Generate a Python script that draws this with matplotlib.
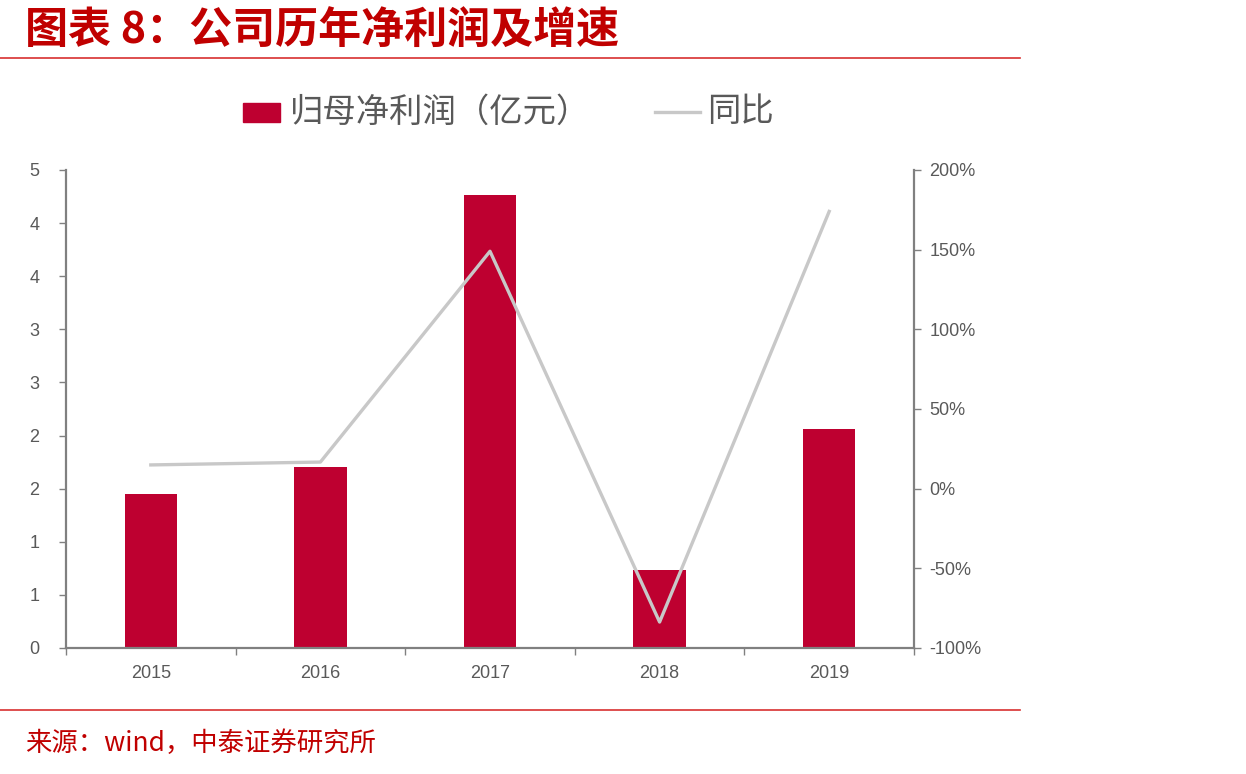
import numpy as np
import matplotlib
matplotlib.use('Agg')
import matplotlib.pyplot as plt
from matplotlib.ticker import FixedLocator, FuncFormatter

plt.rcParams['font.family'] = ['Liberation Sans', 'Noto Sans CJK SC', 'DejaVu Sans']

# data
years = ['2015', '2016', '2017', '2018', '2019']
profit = [1.45, 1.70, 4.26, 0.73, 2.06]      # 归母净利润（亿元）
yoy = [14.9, 16.7, 149.0, -83.7, 174.0]      # 同比 (%)

left_ticks = np.arange(0, 4.51, 0.5)
right_ticks = [-100, -50, 0, 50, 100, 150, 200]

bar_color = '#BE0030'
line_color = '#C8C8C8'
text_gray = '#595959'
axis_gray = '#808080'
red = '#C00000'

fig = plt.figure(figsize=(12.46, 7.74), dpi=100)
ax = fig.add_axes([66 / 1246, 126 / 774, 848 / 1246, 478 / 774])
x = np.arange(len(years))

ax.bar(x, profit, width=0.31, color=bar_color, zorder=2)
ax.set_xlim(-0.5, len(years) - 0.5)
ax.set_ylim(0, 4.5)
ax.yaxis.set_major_locator(FixedLocator(left_ticks))
# the original labels are rounded to whole numbers
ax.yaxis.set_major_formatter(FuncFormatter(lambda v, p: '%d' % int(np.floor(v + 0.5))))
ax.set_xticks(x)
ax.set_xticklabels(years)
ax.set_xticks(np.arange(-0.5, len(years)), minor=True)
ax.tick_params(axis='x', which='major', length=0, pad=12, labelsize=13, labelcolor=text_gray)
ax.tick_params(axis='x', which='minor', length=5, width=1, color=axis_gray)
ax.tick_params(axis='y', length=5, width=1, color=axis_gray, labelsize=13, labelcolor=text_gray, pad=14)
for s in ['top', 'right']:
    ax.spines[s].set_visible(False)
for s in ['left', 'bottom']:
    ax.spines[s].set_color(axis_gray)
    ax.spines[s].set_linewidth(1.6)

ax2 = ax.twinx()
ax2.plot(x, yoy, color=line_color, linewidth=2.4, zorder=3)
ax2.set_ylim(-100, 200)
ax2.yaxis.set_major_locator(FixedLocator(right_ticks))
ax2.yaxis.set_major_formatter(FuncFormatter(lambda v, p: '%d%%' % v))
ax2.tick_params(axis='y', length=5, width=1, color=axis_gray, labelsize=13, labelcolor=text_gray, pad=6)
for s in ['top', 'left', 'bottom']:
    ax2.spines[s].set_visible(False)
ax2.spines['right'].set_color(axis_gray)
ax2.spines['right'].set_linewidth(1.6)

# title, rules and source
cjk = ['Noto Sans CJK SC', 'DejaVu Sans']
fig.text(25 / 1246, 1 - 30 / 774, '图表 8：公司历年净利润及增速', family=cjk, fontsize=31,
         fontweight='bold', style='italic', color=red, va='center', ha='left')
fig.add_artist(plt.Line2D([0, 1020 / 1246], [1 - 58 / 774] * 2, color='#D83030', linewidth=1.2))
fig.add_artist(plt.Line2D([0, 1020 / 1246], [1 - 710 / 774] * 2, color='#D83030', linewidth=1.2))
fig.text(25 / 1246, 1 - 743 / 774, '来源：wind，中泰证券研究所', family=cjk, fontsize=19,
         color=red, va='center', ha='left')

# legend drawn in figure coordinates
fig.add_artist(plt.Rectangle((243 / 1246, 1 - 122 / 774), 37 / 1246, 19 / 774,
                             color=bar_color, transform=fig.transFigure))
fig.text(290 / 1246, 1 - 112 / 774, '归母净利润（亿元）', family=cjk, fontsize=24,
         color=text_gray, va='center', ha='left')
fig.add_artist(plt.Line2D([655 / 1246, 700 / 1246], [1 - 112 / 774] * 2,
                          color=line_color, linewidth=2.4))
fig.text(707 / 1246, 1 - 112 / 774, '同比', family=cjk, fontsize=24,
         color=text_gray, va='center', ha='left')

fig.savefig('out.png', dpi=100)
